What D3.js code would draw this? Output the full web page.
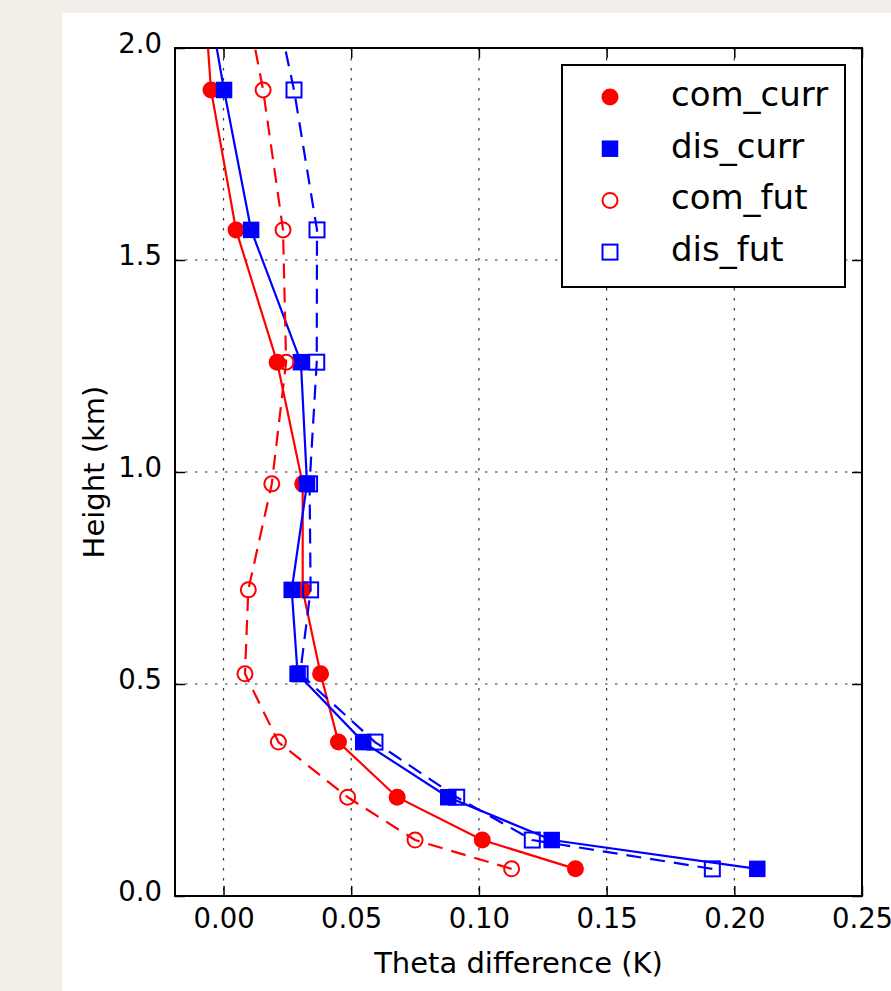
<!DOCTYPE html>
<html>
<head>
<meta charset="utf-8">
<script src="https://cdn.jsdelivr.net/npm/d3@7"></script>
<style>
  html, body { margin: 0; padding: 0; background: #f2efe8; }
  svg { display: block; }
  text { font-family: "DejaVu Sans", sans-serif; fill: #000; }
</style>
</head>
<body>
<div id="chart"></div>
<script>
// heights of model levels (km); last level sits above the axis and is clipped
var heights = [0.064, 0.132, 0.233, 0.363, 0.524, 0.722, 0.972, 1.259, 1.571, 1.901, 2.25];

var comCurr = [0.1378, 0.1013, 0.068, 0.045, 0.038, 0.031, 0.031, 0.021, 0.0049, -0.0049, -0.009];
var disCurr = [0.209, 0.1285, 0.088, 0.0547, 0.029, 0.0267, 0.0327, 0.0303, 0.0108, 0.0002, -0.0099];
var comFut  = [0.1128, 0.075, 0.0486, 0.0215, 0.0084, 0.0097, 0.0189, 0.0245, 0.0233, 0.0155, 0.0044];
var disFut  = [0.1914, 0.1209, 0.0913, 0.0593, 0.030, 0.0341, 0.0337, 0.0365, 0.0366, 0.0276, 0.0152];

var seriesNames = ["com_curr", "dis_curr", "com_fut", "dis_fut"];
var xTicks = [0.00, 0.05, 0.10, 0.15, 0.20, 0.25];
var yTicks = [0.0, 0.5, 1.0, 1.5, 2.0];

var svgWidth = 891, svgHeight = 991;
var margin = {top: 48, right: 29, bottom: 95, left: 175};
var width = svgWidth - margin.left - margin.right;
var height = svgHeight - margin.top - margin.bottom;

var x = d3.scaleLinear().domain([-0.019, 0.25]).range([0, width]),
    y = d3.scaleLinear().domain([0, 2.0]).range([height, 0]);

var styles = [
  {color: "#ff0000", marker: "circle", filled: true,  dash: null,    data: comCurr},
  {color: "#0000ff", marker: "square", filled: true,  dash: null,    data: disCurr},
  {color: "#ff0000", marker: "circle", filled: false, dash: "15,9",  data: comFut},
  {color: "#0000ff", marker: "square", filled: false, dash: "15,9",  data: disFut}
];

var svg = d3.select("#chart").append("svg")
    .attr("width", svgWidth)
    .attr("height", svgHeight);

// white figure panel
svg.append("rect")
    .attr("x", 62).attr("y", 13)
    .attr("width", svgWidth - 62).attr("height", svgHeight - 13)
    .attr("fill", "#fff");

svg.append("defs").append("clipPath").attr("id", "plotClip")
  .append("rect").attr("width", width).attr("height", height);

var g = svg.append("g")
    .attr("transform", "translate(" + margin.left + "," + margin.top + ")");

// grid
g.append("g").selectAll("line")
    .data(xTicks)
    .enter().append("line")
    .attr("x1", function(d) { return x(d); })
    .attr("x2", function(d) { return x(d); })
    .attr("y1", 0).attr("y2", height)
    .attr("stroke", "#333").attr("stroke-width", 1.2)
    .attr("stroke-dasharray", "2.5,7.5");

g.append("g").selectAll("line")
    .data(yTicks)
    .enter().append("line")
    .attr("y1", function(d) { return y(d); })
    .attr("y2", function(d) { return y(d); })
    .attr("x1", 0).attr("x2", width)
    .attr("stroke", "#333").attr("stroke-width", 1.2)
    .attr("stroke-dasharray", "2.5,7.5");

// axes, ticks pointing inward
var xAxis = d3.axisBottom(x).tickValues(xTicks).tickFormat(d3.format(".2f"))
    .tickSizeInner(-10).tickSizeOuter(0).tickPadding(12);
var yAxis = d3.axisLeft(y).tickValues(yTicks).tickFormat(d3.format(".1f"))
    .tickSizeInner(-10).tickSizeOuter(0).tickPadding(13);
var xTop = d3.axisTop(x).tickValues(xTicks).tickFormat("").tickSizeInner(-10).tickSizeOuter(0);
var yRight = d3.axisRight(y).tickValues(yTicks).tickFormat("").tickSizeInner(-10).tickSizeOuter(0);

var xg = g.append("g").attr("transform", "translate(0," + height + ")").call(xAxis);
var yg = g.append("g").call(yAxis);
var tg = g.append("g").call(xTop);
var rg = g.append("g").attr("transform", "translate(" + width + ",0)").call(yRight);

[xg, yg, tg, rg].forEach(function(a) {
  a.select(".domain").remove();
  a.selectAll(".tick line").attr("stroke", "#000").attr("stroke-width", 1.5);
  a.selectAll("text").attr("font-family", "DejaVu Sans").attr("font-size", 27.5).attr("fill", "#000");
});
yg.selectAll(".tick text").attr("dy", "4.5px");

// series
var line = d3.line()
    .x(function(d) { return x(d[0]); })
    .y(function(d) { return y(d[1]); });

var plot = g.append("g").attr("clip-path", "url(#plotClip)");

function drawMarker(sel, s, cx, cy) {
  if (s.marker == "circle") {
    sel.append("circle")
        .attr("cx", cx).attr("cy", cy)
        .attr("r", s.filled ? 8.5 : 7.5)
        .attr("fill", s.filled ? s.color : "none")
        .attr("stroke", s.color)
        .attr("stroke-width", s.filled ? 0 : 2);
  } else {
    var side = s.filled ? 16.5 : 15;
    sel.append("rect")
        .attr("x", cx - side / 2).attr("y", cy - side / 2)
        .attr("width", side).attr("height", side)
        .attr("fill", s.filled ? s.color : "none")
        .attr("stroke", s.color)
        .attr("stroke-width", s.filled ? 0 : 2);
  }
}

styles.forEach(function(s) {
  var pts = s.data.map(function(v, i) { return [v, heights[i]]; });
  plot.append("path")
      .datum(pts)
      .attr("fill", "none")
      .attr("stroke", s.color)
      .attr("stroke-width", 2.2)
      .attr("stroke-dasharray", s.dash)
      .attr("d", line);
  var mg = plot.append("g");
  pts.forEach(function(p) { drawMarker(mg, s, x(p[0]), y(p[1])); });
});

// frame
g.append("rect")
    .attr("width", width).attr("height", height)
    .attr("fill", "none").attr("stroke", "#000").attr("stroke-width", 2);

// axis labels
g.append("text")
    .attr("x", width / 2).attr("y", height + 77)
    .attr("text-anchor", "middle")
    .attr("font-size", 29)
    .text("Theta difference (K)");

svg.append("text")
    .attr("transform", "translate(104," + (margin.top + height / 2) + ") rotate(-90)")
    .attr("text-anchor", "middle")
    .attr("font-size", 29)
    .text("Height (km)");

// legend
var leg = svg.append("g").attr("transform", "translate(562,65)");
leg.append("rect")
    .attr("width", 283).attr("height", 222)
    .attr("fill", "#fff").attr("stroke", "#000").attr("stroke-width", 2);

styles.forEach(function(s, i) {
  var ry = 32 + i * 51.7;
  drawMarker(leg, s, 48, ry);
  leg.append("text")
      .attr("x", 109).attr("y", ry + 9)
      .attr("font-size", 34)
      .text(seriesNames[i]);
});
</script>
</body>
</html>
